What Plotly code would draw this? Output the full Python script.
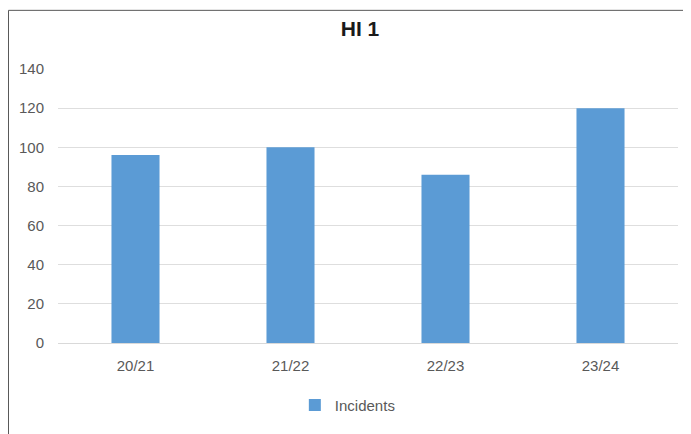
import plotly.graph_objects as go

categories = ["20/21", "21/22", "22/23", "23/24"]
incidents = [96, 100, 86, 120]
y_ticks = [0, 20, 40, 60, 80, 100, 120, 140]

fig = go.Figure()
fig.add_trace(go.Bar(
    x=categories, y=incidents, name="Incidents",
    marker=dict(color="#5b9bd5", line=dict(width=0)),
    showlegend=True,
))

font_family = "Liberation Sans, Arial, sans-serif"
W, H = 683, 426
L, T, B = 50, 61, 87
R = W - L - 620
fig.update_layout(
    width=W, height=H,
    margin=dict(l=L, r=R, t=T, b=B, pad=0),
    paper_bgcolor="white", plot_bgcolor="white",
    bargap=0.69,
    title=dict(text="<b>HI 1</b>", x=352 / W, xanchor="center", xref="container",
               y=1 - 20.5 / H, yanchor="middle",
               font=dict(family=font_family, size=21, color="#1a1a1a")),
    font=dict(family=font_family, size=15, color="#595959"),
    xaxis=dict(showgrid=False, showline=True, linecolor="#d9d9d9", linewidth=1,
               ticks="", tickfont=dict(size=15, color="#595959"), ticklabelstandoff=9),
    yaxis=dict(range=[0, 140], tickvals=y_ticks, showgrid=True, gridcolor="#dedede",
               gridwidth=1, zeroline=False, showline=False, ticks="",
               tickfont=dict(size=15, color="#595959"), ticklabelstandoff=13),
    showlegend=True,
    legend=dict(orientation="h", x=0.382, xanchor="left", y=-0.227, yanchor="middle",
                font=dict(size=15, color="#595959"), itemwidth=30),
    shapes=[dict(type="rect", xref="paper", yref="paper",
                 x0=(0.5 - L) / 620, x1=(682.5 - L) / 620, y0=-0.6, y1=(339 - 1.5) / 278,
                 line=dict(color="#595959", width=1), layer="below")],
)

fig.write_html("out.html")
